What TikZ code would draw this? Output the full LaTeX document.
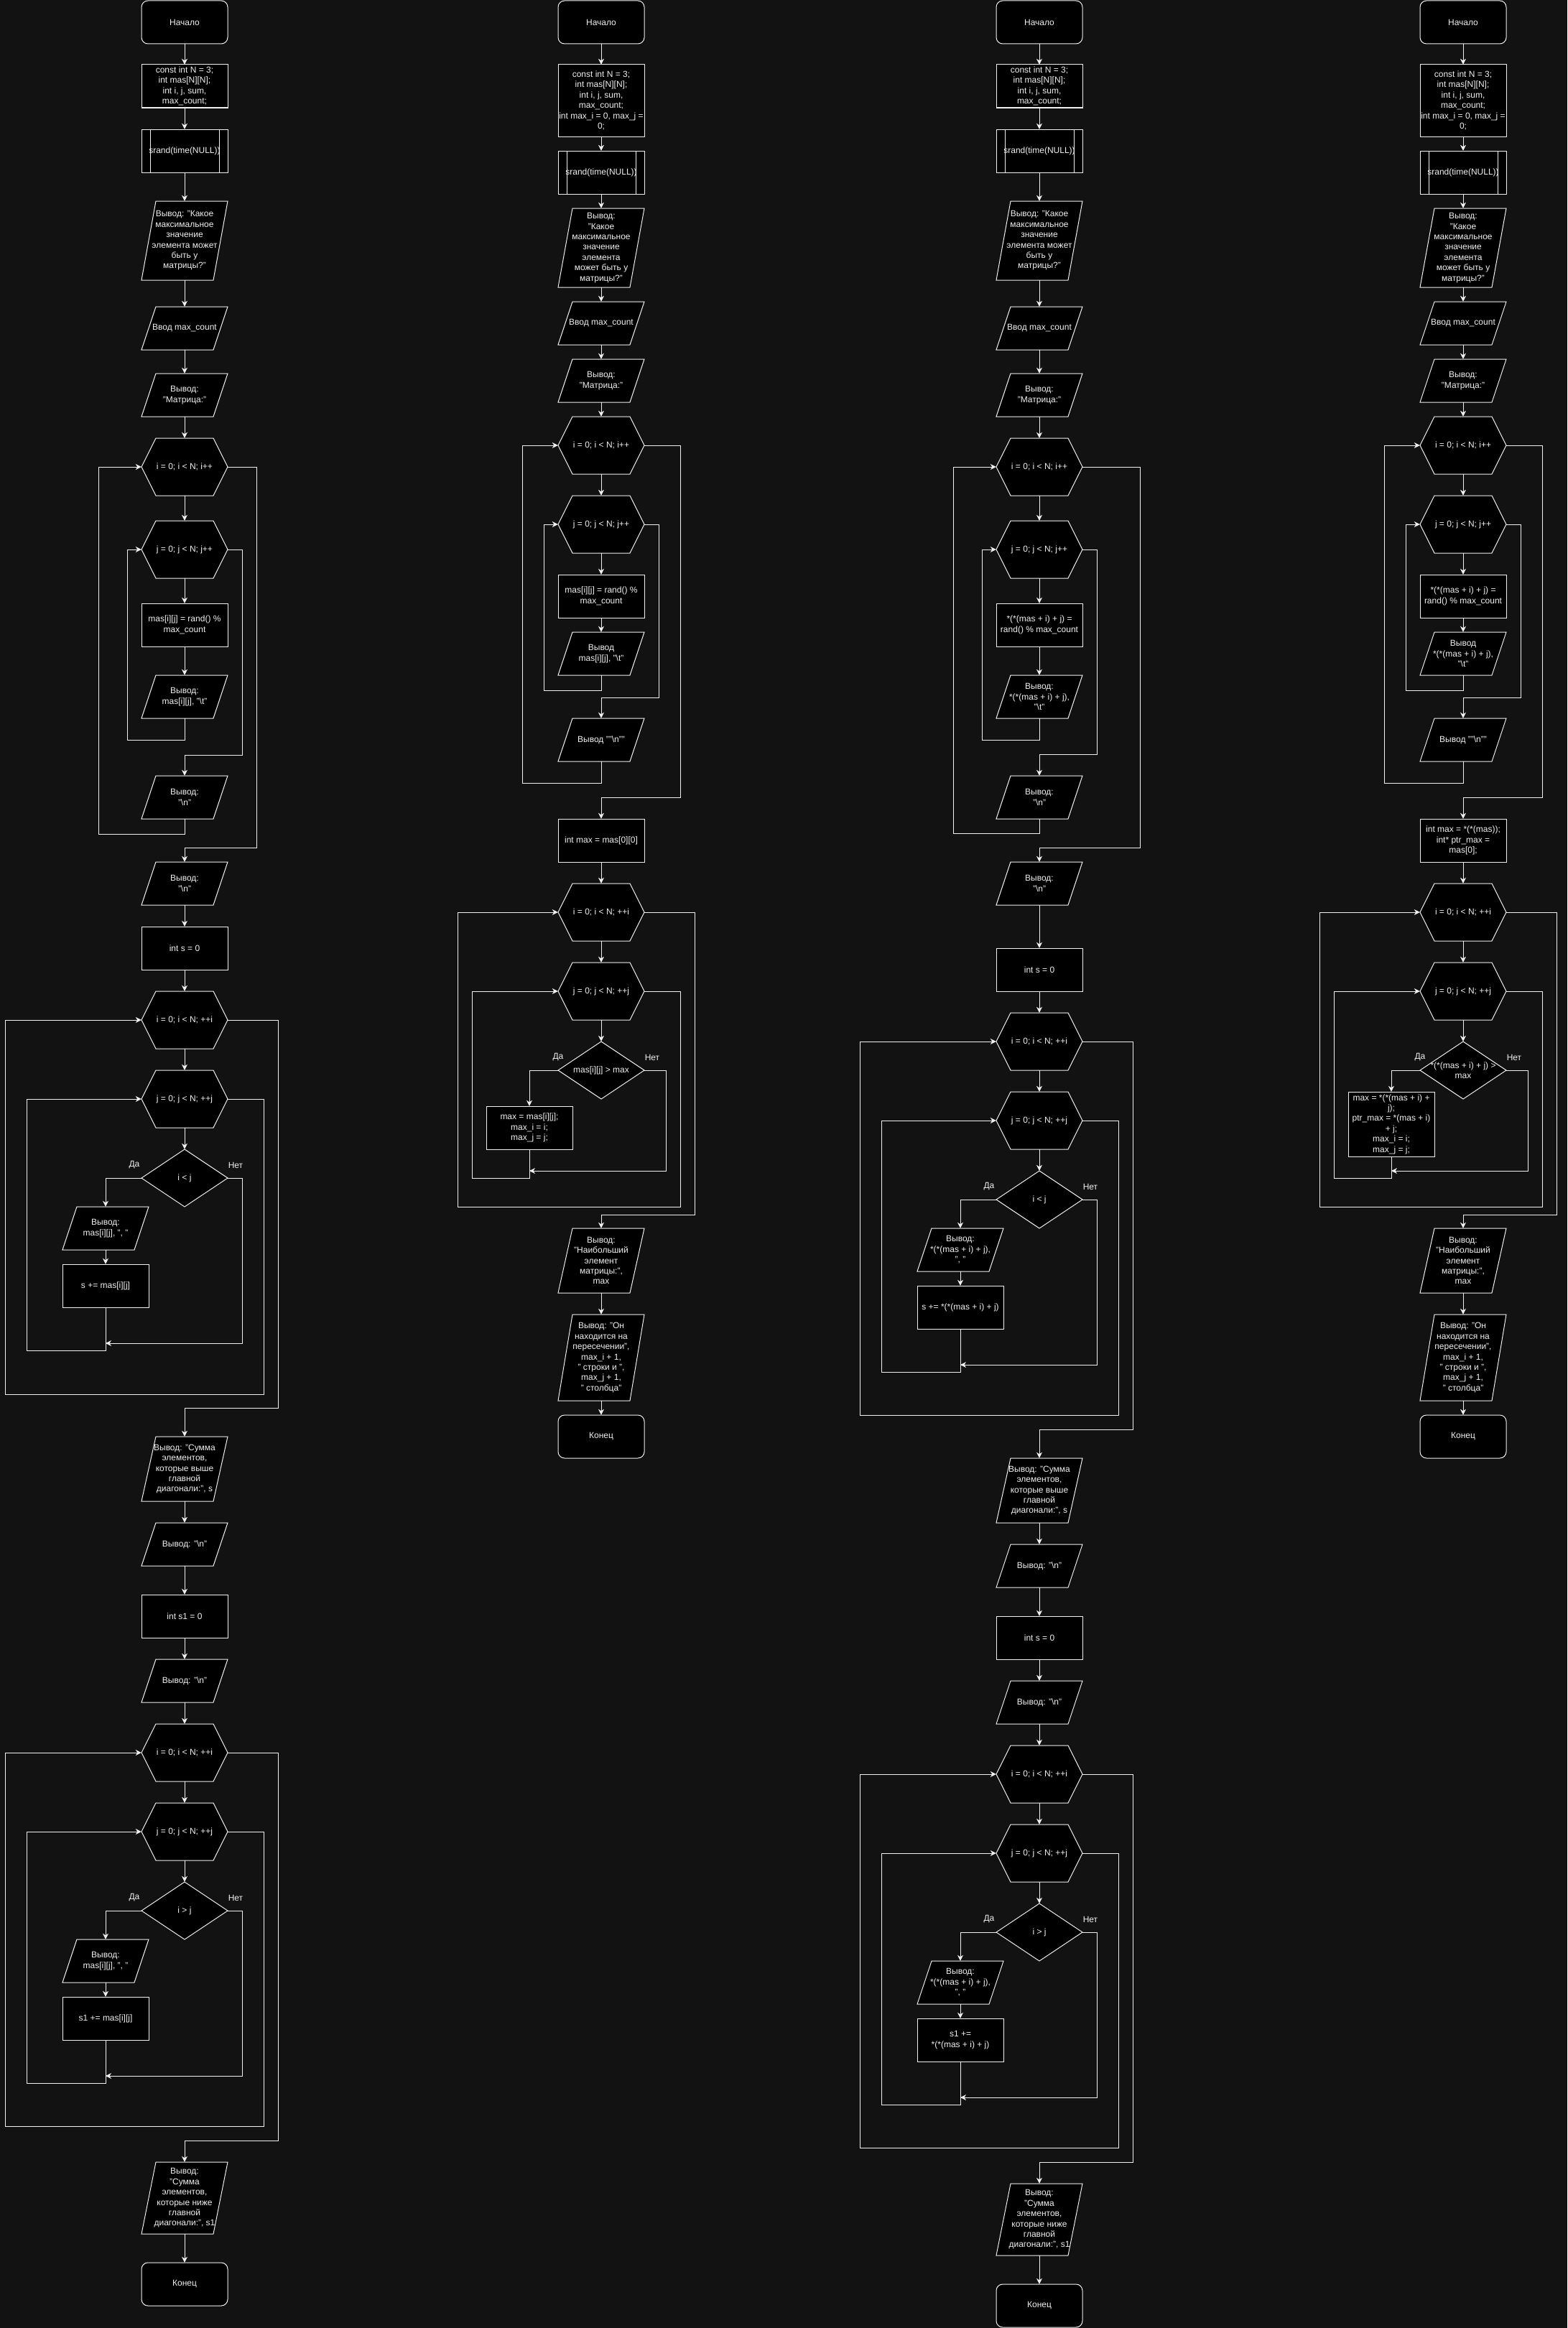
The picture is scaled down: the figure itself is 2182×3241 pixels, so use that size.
\documentclass[tikz,border=0pt]{standalone}
\usepackage{fontspec}
\setmainfont{Liberation Sans}
\usetikzlibrary{arrows.meta}
\definecolor{bg}{HTML}{121212}
\definecolor{fg}{HTML}{F0F0F0}
\definecolor{ln}{HTML}{F0F0F0}
\newcommand{\bs}{\textbackslash}
\tikzset{
 shp/.style={draw=ln, fill=black, line width=1pt},
 txt/.style={inner sep=0pt, align=center, text=fg, font=\fontsize{12}{14.4}\selectfont, shape=rectangle},
 arr/.style={draw=ln, line width=1pt, -{Stealth[length=8pt,width=8pt,inset=2.5pt]}},
 lnk/.style={draw=ln, line width=1pt},
 lbl/.style={text=fg, font=\fontsize{12}{14.4}\selectfont, inner sep=0pt},
}
\newcommand{\TXN}[6]{\node[txt, minimum width=#4pt, minimum height=#5pt] (#1) at ({#2+#4/2},{#3+#5/2}) {#6};}
\newcommand{\TRM}[6]{\path[shp, rounded corners=9pt] (#2,#3) rectangle ({#2+#4},{#3+#5});\TXN{#1}{#2}{#3}{#4}{#5}{#6}}
\newcommand{\PRC}[6]{\path[shp] (#2,#3) rectangle ({#2+#4},{#3+#5});\TXN{#1}{#2}{#3}{#4}{#5}{#6}}
\newcommand{\SUBP}[6]{\path[shp] (#2,#3) rectangle ({#2+#4},{#3+#5});
 \draw[lnk] ({#2+12},#3) -- ({#2+12},{#3+#5}); \draw[lnk] ({#2+#4-12},#3) -- ({#2+#4-12},{#3+#5});
 \TXN{#1}{#2}{#3}{#4}{#5}{#6}}
\newcommand{\IOP}[6]{\path[shp] ({#2+20},#3) -- ({#2+#4},#3) -- ({#2+#4-20},{#3+#5}) -- (#2,{#3+#5}) -- cycle;\TXN{#1}{#2}{#3}{#4}{#5}{#6}}
\newcommand{\HEXL}[6]{\path[shp] (#2,{#3+#5/2}) -- ({#2+20},#3) -- ({#2+#4-20},#3) -- ({#2+#4},{#3+#5/2}) -- ({#2+#4-20},{#3+#5}) -- ({#2+20},{#3+#5}) -- cycle;\TXN{#1}{#2}{#3}{#4}{#5}{#6}}
\newcommand{\DIAM}[6]{\path[shp] (#2,{#3+#5/2}) -- ({#2+#4/2},#3) -- ({#2+#4},{#3+#5/2}) -- ({#2+#4/2},{#3+#5}) -- cycle;\TXN{#1}{#2}{#3}{#4}{#5}{#6}}
\newcommand{\dn}[2]{\draw[arr] (#1.south) -- (#2.north);}
\begin{document}
\begin{tikzpicture}[x=1pt,y=-1pt]
\useasboundingbox (0,0) rectangle (2182,3241);
\fill[bg] (0,0) rectangle (2182,3241);

% ================= Column 1 =================
\TRM{a1}{197}{1}{120}{60}{Начало}
\PRC{a2}{197}{90}{120}{60}{const int N = 3;\\ int mas[N][N];\\ int i, j, sum,\\ max\_count;}
\SUBP{a3}{197}{180}{120}{60}{srand(time(NULL))}
\IOP{a4}{197}{280}{120}{110}{Вывод: "Какое\\ максимальное\\ значение\\ элемента может\\ быть у\\ матрицы?"}
\IOP{a5}{197}{427}{120}{60}{Ввод max\_count}
\IOP{a6}{197}{520}{120}{60}{Вывод:\\ "Матрица:"}
\HEXL{a7}{197}{610}{120}{80}{i = 0; i < N; i++}
\HEXL{a8}{197}{725}{120}{80}{j = 0; j < N; j++}
\PRC{a9}{197}{840}{120}{60}{mas[i][j] = rand() \%\\ max\_count}
\IOP{a10}{197}{940}{120}{60}{Вывод:\\ mas[i][j], "\bs t"}
\IOP{a11}{197}{1080}{120}{60}{Вывод:\\ "\bs n"}
\IOP{a12}{197}{1200}{120}{60}{Вывод:\\ "\bs n"}
\PRC{a13}{197}{1290}{120}{60}{int s = 0}
\HEXL{a14}{197}{1380}{120}{80}{i = 0; i < N; ++i}
\HEXL{a15}{197}{1490}{120}{80}{j = 0; j < N; ++j}
\DIAM{a16}{197}{1600}{120}{80}{i < j}
\IOP{a17}{87}{1680}{120}{60}{Вывод:\\ mas[i][j], ", "}
\PRC{a18}{87}{1760}{120}{60}{s += mas[i][j]}
\IOP{a19}{197}{2000}{120}{90}{Вывод: "Сумма\\ элементов,\\ которые выше\\ главной\\ диагонали:", s}
\IOP{a20}{197}{2120}{120}{60}{Вывод: "\bs n"}
\PRC{a21}{197}{2220}{120}{60}{int s1 = 0}
\IOP{a22}{197}{2310}{120}{60}{Вывод: "\bs n"}
\HEXL{a23}{197}{2400}{120}{80}{i = 0; i < N; ++i}
\HEXL{a24}{197}{2510}{120}{80}{j = 0; j < N; ++j}
\DIAM{a25}{197}{2620}{120}{80}{i > j}
\IOP{a26}{87}{2700}{120}{60}{Вывод:\\ mas[i][j], ", "}
\PRC{a27}{87}{2780}{120}{60}{s1 += mas[i][j]}
\IOP{a28}{197}{3010}{120}{100}{Вывод:\\ "Сумма\\ элементов,\\ которые ниже\\ главной\\ диагонали:", s1}
\TRM{a29}{197}{3150}{120}{60}{Конец}
\node[lbl] (a16y) at (187,1622) {Да};
\node[lbl] (a16n) at (328,1622) {Нет};
\node[lbl] (a25y) at (187,2642) {Да};
\node[lbl] (a25n) at (328,2642) {Нет};

\dn{a1}{a2}\dn{a2}{a3}\dn{a3}{a4}\dn{a4}{a5}\dn{a5}{a6}\dn{a6}{a7}\dn{a7}{a8}\dn{a8}{a9}\dn{a9}{a10}
\draw[arr] (a10.south) -- (257,1030) -- (177,1030) |- (a8.west);
\draw[arr] (a8.east) -| (337,1051) -| (a11.north);
\draw[arr] (a11.south) -- (257,1161) -- (137,1161) |- (a7.west);
\draw[arr] (a7.east) -| (357,1180) -| (a12.north);
\dn{a12}{a13}\dn{a13}{a14}\dn{a14}{a15}\dn{a15}{a16}
\draw[arr] (a16.west) -| (a17.north);
\dn{a17}{a18}
\coordinate (am1) at (147,1870);
\draw[arr] (a16.east) -| (337,1870) -- (am1);
\draw[arr] (a18.south) -- (147,1880) -- (37,1880) |- (a15.west);
\draw[arr] (a15.east) -| (367,1941) -- (7,1941) |- (a14.west);
\draw[arr] (a14.east) -| (387,1960) -| (a19.north);
\dn{a19}{a20}\dn{a20}{a21}\dn{a21}{a22}\dn{a22}{a23}\dn{a23}{a24}\dn{a24}{a25}
\draw[arr] (a25.west) -| (a26.north);
\dn{a26}{a27}
\coordinate (am2) at (147,2890);
\draw[arr] (a25.east) -| (337,2890) -- (am2);
\draw[arr] (a27.south) -- (147,2900) -- (37,2900) |- (a24.west);
\draw[arr] (a24.east) -| (367,2960) -- (7,2960) |- (a23.west);
\draw[arr] (a23.east) -| (387,2980) -| (a28.north);
\dn{a28}{a29}

% ================= Column 2 =================
\TRM{b1}{777}{1}{120}{60}{Начало}
\PRC{b2}{777}{90}{120}{100}{const int N = 3;\\ int mas[N][N];\\ int i, j, sum,\\ max\_count;\\ int max\_i = 0, max\_j =\\ 0;}
\SUBP{b3}{777}{210}{120}{60}{srand(time(NULL))}
\IOP{b4}{777}{290}{120}{110}{Вывод:\\ "Какое\\ максимальное\\ значение\\ элемента\\ может быть у\\ матрицы?"}
\IOP{b5}{777}{420}{120}{60}{Ввод max\_count}
\IOP{b6}{777}{500}{120}{60}{Вывод:\\ "Матрица:"}
\HEXL{b7}{777}{580}{120}{80}{i = 0; i < N; i++}
\HEXL{b8}{777}{690}{120}{80}{j = 0; j < N; j++}
\PRC{b9}{777}{800}{120}{60}{mas[i][j] = rand() \%\\ max\_count}
\IOP{b10}{777}{880}{120}{60}{Вывод\\ mas[i][j], "\bs t"}
\IOP{b11}{777}{1000}{120}{60}{Вывод ""\bs n""}
\PRC{b12}{777}{1140}{120}{60}{int max = mas[0][0]}
\HEXL{b13}{777}{1230}{120}{80}{i = 0; i < N; ++i}
\HEXL{b14}{777}{1340}{120}{80}{j = 0; j < N; ++j}
\DIAM{b15}{777}{1450}{120}{80}{mas[i][j] > max}
\PRC{b16}{677}{1540}{120}{60}{max = mas[i][j];\\ max\_i = i;\\ max\_j = j;}
\IOP{b17}{777}{1710}{120}{90}{Вывод:\\ "Наибольший\\ элемент\\ матрицы:",\\ max}
\IOP{b18}{777}{1830}{120}{120}{Вывод: "Он\\ находится на\\ пересечении",\\ max\_i + 1,\\ " строки и ",\\ max\_j + 1,\\ " столбца"}
\TRM{b19}{777}{1970}{120}{60}{Конец}
\node[lbl] (b15y) at (777,1472) {Да};
\node[lbl] (b15n) at (908,1472) {Нет};

\dn{b1}{b2}\dn{b2}{b3}\dn{b3}{b4}\dn{b4}{b5}\dn{b5}{b6}\dn{b6}{b7}\dn{b7}{b8}\dn{b8}{b9}\dn{b9}{b10}
\draw[arr] (b10.south) -- (837,961) -- (757,961) |- (b8.west);
\draw[arr] (b8.east) -| (917,971) -| (b11.north);
\draw[arr] (b11.south) -- (837,1090) -- (727,1090) |- (b7.west);
\draw[arr] (b7.east) -| (947,1110) -| (b12.north);
\dn{b12}{b13}\dn{b13}{b14}\dn{b14}{b15}
\draw[arr] (b15.west) -| (b16.north);
\coordinate (bm1) at (737,1630);
\draw[arr] (b15.east) -| (927,1630) -- (bm1);
\draw[arr] (b16.south) -- (737,1640) -- (657,1640) |- (b14.west);
\draw[arr] (b14.east) -| (947,1680) -- (637,1680) |- (b13.west);
\draw[arr] (b13.east) -| (967,1691) -| (b17.north);
\dn{b17}{b18}\dn{b18}{b19}

% ================= Column 3 =================
\TRM{c1}{1387}{1}{120}{60}{Начало}
\PRC{c2}{1387}{90}{120}{60}{const int N = 3;\\ int mas[N][N];\\ int i, j, sum,\\ max\_count;}
\SUBP{c3}{1387}{180}{120}{60}{srand(time(NULL))}
\IOP{c4}{1387}{280}{120}{110}{Вывод: "Какое\\ максимальное\\ значение\\ элемента может\\ быть у\\ матрицы?"}
\IOP{c5}{1387}{427}{120}{60}{Ввод max\_count}
\IOP{c6}{1387}{520}{120}{60}{Вывод:\\ "Матрица:"}
\HEXL{c7}{1387}{610}{120}{80}{i = 0; i < N; i++}
\HEXL{c8}{1387}{725}{120}{80}{j = 0; j < N; j++}
\PRC{c9}{1387}{840}{120}{60}{*(*(mas + i) + j) =\\ rand() \% max\_count}
\IOP{c10}{1387}{940}{120}{60}{Вывод:\\{}*(*(mas + i) + j),\\ "\bs t"}
\IOP{c11}{1387}{1080}{120}{60}{Вывод:\\ "\bs n"}
\IOP{c12}{1387}{1200}{120}{60}{Вывод:\\ "\bs n"}
\PRC{c13}{1387}{1320}{120}{60}{int s = 0}
\HEXL{c14}{1387}{1410}{120}{80}{i = 0; i < N; ++i}
\HEXL{c15}{1387}{1520}{120}{80}{j = 0; j < N; ++j}
\DIAM{c16}{1387}{1630}{120}{80}{i < j}
\IOP{c17}{1277}{1710}{120}{60}{Вывод:\\{}*(*(mas + i) + j),\\ ", "}
\PRC{c18}{1277}{1790}{120}{60}{s += *(*(mas + i) + j)}
\IOP{c19}{1387}{2030}{120}{90}{Вывод: "Сумма\\ элементов,\\ которые выше\\ главной\\ диагонали:", s}
\IOP{c20}{1387}{2150}{120}{60}{Вывод: "\bs n"}
\PRC{c21}{1387}{2250}{120}{60}{int s = 0}
\IOP{c22}{1387}{2340}{120}{60}{Вывод: "\bs n"}
\HEXL{c23}{1387}{2430}{120}{80}{i = 0; i < N; ++i}
\HEXL{c24}{1387}{2540}{120}{80}{j = 0; j < N; ++j}
\DIAM{c25}{1387}{2650}{120}{80}{i > j}
\IOP{c26}{1277}{2730}{120}{60}{Вывод:\\{}*(*(mas + i) + j),\\ ", "}
\PRC{c27}{1277}{2810}{120}{60}{s1 +=\\{}*(*(mas + i) + j)}
\IOP{c28}{1387}{3040}{120}{100}{Вывод:\\ "Сумма\\ элементов,\\ которые ниже\\ главной\\ диагонали:", s1}
\TRM{c29}{1387}{3180}{120}{60}{Конец}
\node[lbl] (c16y) at (1377,1652) {Да};
\node[lbl] (c16n) at (1518,1652) {Нет};
\node[lbl] (c25y) at (1377,2672) {Да};
\node[lbl] (c25n) at (1518,2672) {Нет};

\dn{c1}{c2}\dn{c2}{c3}\dn{c3}{c4}\dn{c4}{c5}\dn{c5}{c6}\dn{c6}{c7}\dn{c7}{c8}\dn{c8}{c9}\dn{c9}{c10}
\draw[arr] (c10.south) -- (1447,1030) -- (1367,1030) |- (c8.west);
\draw[arr] (c8.east) -| (1527,1050) -| (c11.north);
\draw[arr] (c11.south) -- (1447,1160) -- (1327,1160) |- (c7.west);
\draw[arr] (c7.east) -| (1587,1180) -| (c12.north);
\dn{c12}{c13}\dn{c13}{c14}\dn{c14}{c15}\dn{c15}{c16}
\draw[arr] (c16.west) -| (c17.north);
\dn{c17}{c18}
\coordinate (cm1) at (1337,1900);
\draw[arr] (c16.east) -| (1527,1900) -- (cm1);
\draw[arr] (c18.south) -- (1337,1910) -- (1227,1910) |- (c15.west);
\draw[arr] (c15.east) -| (1557,1970) -- (1197,1970) |- (c14.west);
\draw[arr] (c14.east) -| (1577,1990) -| (c19.north);
\dn{c19}{c20}\dn{c20}{c21}\dn{c21}{c22}\dn{c22}{c23}\dn{c23}{c24}\dn{c24}{c25}
\draw[arr] (c25.west) -| (c26.north);
\dn{c26}{c27}
\coordinate (cm2) at (1337,2920);
\draw[arr] (c25.east) -| (1527,2920) -- (cm2);
\draw[arr] (c27.south) -- (1337,2930) -- (1227,2930) |- (c24.west);
\draw[arr] (c24.east) -| (1557,2990) -- (1197,2990) |- (c23.west);
\draw[arr] (c23.east) -| (1577,3010) -| (c28.north);
\dn{c28}{c29}

% ================= Column 4 =================
\TRM{d1}{1977}{1}{120}{60}{Начало}
\PRC{d2}{1977}{90}{120}{100}{const int N = 3;\\ int mas[N][N];\\ int i, j, sum,\\ max\_count;\\ int max\_i = 0, max\_j =\\ 0;}
\SUBP{d3}{1977}{210}{120}{60}{srand(time(NULL))}
\IOP{d4}{1977}{290}{120}{110}{Вывод:\\ "Какое\\ максимальное\\ значение\\ элемента\\ может быть у\\ матрицы?"}
\IOP{d5}{1977}{420}{120}{60}{Ввод max\_count}
\IOP{d6}{1977}{500}{120}{60}{Вывод:\\ "Матрица:"}
\HEXL{d7}{1977}{580}{120}{80}{i = 0; i < N; i++}
\HEXL{d8}{1977}{690}{120}{80}{j = 0; j < N; j++}
\PRC{d9}{1977}{800}{120}{60}{*(*(mas + i) + j) =\\ rand() \% max\_count}
\IOP{d10}{1977}{880}{120}{60}{Вывод\\{}*(*(mas + i) + j),\\ "\bs t"}
\IOP{d11}{1977}{1000}{120}{60}{Вывод ""\bs n""}
\PRC{d12}{1977}{1140}{120}{60}{int max = *(*(mas));\\ int* ptr\_max =\\ mas[0];}
\HEXL{d13}{1977}{1230}{120}{80}{i = 0; i < N; ++i}
\HEXL{d14}{1977}{1340}{120}{80}{j = 0; j < N; ++j}
\DIAM{d15}{1977}{1450}{120}{80}{*(*(mas + i) + j) >\\ max}
\PRC{d16}{1877}{1520}{120}{90}{max = *(*(mas + i) +\\ j);\\ ptr\_max = *(mas + i)\\ + j;\\ max\_i = i;\\ max\_j = j;}
\IOP{d17}{1977}{1710}{120}{90}{Вывод:\\ "Наибольший\\ элемент\\ матрицы:",\\ max}
\IOP{d18}{1977}{1830}{120}{120}{Вывод: "Он\\ находится на\\ пересечении",\\ max\_i + 1,\\ " строки и ",\\ max\_j + 1,\\ " столбца"}
\TRM{d19}{1977}{1970}{120}{60}{Конец}
\node[lbl] (d15y) at (1977,1472) {Да};
\node[lbl] (d15n) at (2108,1472) {Нет};

\dn{d1}{d2}\dn{d2}{d3}\dn{d3}{d4}\dn{d4}{d5}\dn{d5}{d6}\dn{d6}{d7}\dn{d7}{d8}\dn{d8}{d9}\dn{d9}{d10}
\draw[arr] (d10.south) -- (2037,961) -- (1957,961) |- (d8.west);
\draw[arr] (d8.east) -| (2117,971) -| (d11.north);
\draw[arr] (d11.south) -- (2037,1090) -- (1927,1090) |- (d7.west);
\draw[arr] (d7.east) -| (2147,1110) -| (d12.north);
\dn{d12}{d13}\dn{d13}{d14}\dn{d14}{d15}
\draw[arr] (d15.west) -| (d16.north);
\coordinate (dm1) at (1937,1630);
\draw[arr] (d15.east) -| (2127,1630) -- (dm1);
\draw[arr] (d16.south) -- (1937,1640) -- (1857,1640) |- (d14.west);
\draw[arr] (d14.east) -| (2147,1680) -- (1837,1680) |- (d13.west);
\draw[arr] (d13.east) -| (2167,1691) -| (d17.north);
\dn{d17}{d18}\dn{d18}{d19}
\end{tikzpicture}
\end{document}
